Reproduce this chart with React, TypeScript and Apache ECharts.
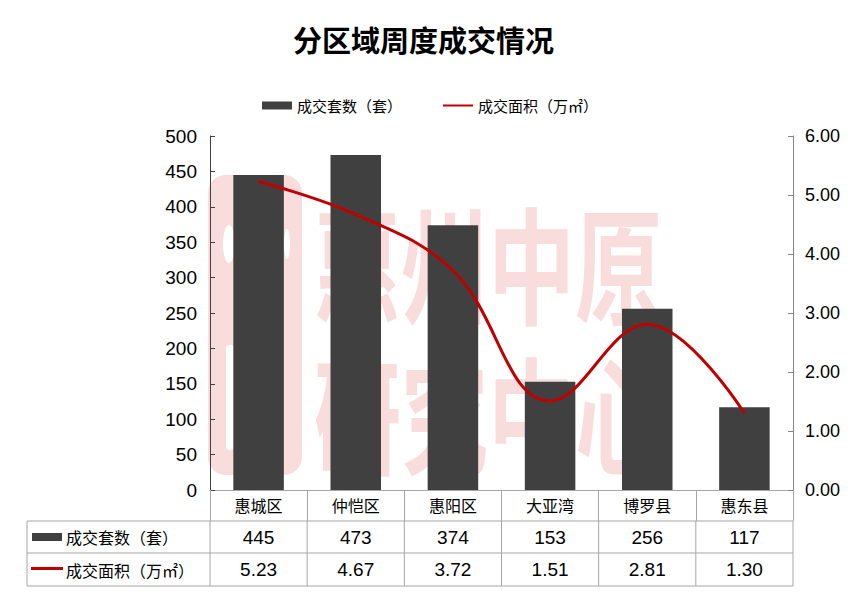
import React, { useEffect, useRef } from "react";
import * as echarts from "echarts";

const categories = ["惠城区", "仲恺区", "惠阳区", "大亚湾", "博罗县", "惠东县"];
const units = [445, 473, 374, 153, 256, 117];
const areas = [5.23, 4.67, 3.72, 1.51, 2.81, 1.3];
const seriesNames = ["成交套数（套）", "成交面积（万㎡）"];
const titleText = "分区域周度成交情况";
const watermarkLines = ["惠州中原", "研究中心"];

const FONT = "'Liberation Sans', Arial, 'Noto Sans CJK SC', sans-serif";
const CJK = "'Noto Sans CJK SC', 'Liberation Sans', sans-serif";
const BAR = "#404040";
const RED = "#c00000";
const GRIDLINE = "#a6a6a6";
const PINK = "#f9dcdc";

export default function App() {
  const ref = useRef<HTMLDivElement>(null);
  useEffect(() => {
    if (!ref.current) return;
    const chart = echarts.init(ref.current, undefined, { renderer: "svg" });
    chart.setOption({
      animation: false,
      textStyle: { fontFamily: FONT },
      title: {
        text: titleText,
        left: 288,
        top: 19,
        textStyle: { fontSize: 29, fontWeight: "bold", color: "#000", fontFamily: CJK },
      },
      legend: {
        top: 93,
        left: 257,
        itemWidth: 30,
        itemHeight: 8,
        itemGap: 40,
        textStyle: { fontSize: 15, color: "#000", fontFamily: CJK },
        data: [
          { name: seriesNames[0], icon: "rect" },
          { name: seriesNames[1], itemStyle: { opacity: 0 } },
        ],
      },
      grid: { left: 210, right: 71, top: 136, bottom: 105 },
      xAxis: {
        type: "category",
        data: categories,
        axisLine: { lineStyle: { color: GRIDLINE, width: 1 } },
        axisTick: { show: true, length: 31, interval: 0, lineStyle: { color: GRIDLINE } },
        axisLabel: { interval: 0, margin: 7, fontSize: 16, color: "#000", fontFamily: CJK },
      },
      yAxis: [
        {
          type: "value",
          min: 0,
          max: 500,
          interval: 50,
          splitLine: { show: false },
          axisLine: { show: true, lineStyle: { color: "#404040" } },
          axisTick: { show: true, inside: true, length: 5, lineStyle: { color: "#404040" } },
          axisLabel: { fontSize: 19, color: "#000", margin: 13 },
        },
        {
          type: "value",
          min: 0,
          max: 6,
          interval: 1,
          position: "right",
          splitLine: { show: false },
          axisLine: { show: true, lineStyle: { color: "#868686" } },
          axisTick: { show: true, inside: true, length: 5, lineStyle: { color: "#868686" } },
          axisLabel: { fontSize: 18, color: "#000", margin: 12, formatter: (v: number) => v.toFixed(2) },
        },
      ],
      series: [
        {
          name: seriesNames[0],
          type: "bar",
          data: units,
          barWidth: "52%",
          itemStyle: { color: BAR },
          z: 2,
        },
        {
          name: seriesNames[1],
          type: "line",
          yAxisIndex: 1,
          data: areas,
          smooth: 0.4,
          symbol: "none",
          lineStyle: { width: 3, color: RED },
          itemStyle: { color: RED },
          z: 3,
        },
      ],
    });

    const centers = categories.map((_, i) => chart.convertToPixel({ xAxisIndex: 0 }, i) as number);
    const band = centers.length > 1 ? centers[1] - centers[0] : 97;
    const xStart = centers[0] - band / 2;
    const xEnd = centers[centers.length - 1] + band / 2;
    const tableLeft = 27;
    const rowTops = [521, 553, 586];
    const rowMid = [537, 569.5];

    const g: any[] = [];
    // watermark
    g.push({ type: "rect", z: -10, shape: { x: 208, y: 175, width: 94, height: 300, r: 18 }, style: { fill: PINK } });
    g.push({ type: "ellipse", z: -9, shape: { cx: 229, cy: 244, rx: 6, ry: 19 }, style: { fill: "#fff" } });
    g.push({ type: "rect", z: -9, shape: { x: 226, y: 345, width: 8, height: 105, r: 4 }, style: { fill: "#fff" } });
    g.push({ type: "ellipse", z: -9, shape: { cx: 287, cy: 244, rx: 3, ry: 15 }, style: { fill: "#fff" } });
    watermarkLines.forEach((t, i) => {
      g.push({
        type: "text",
        z: -10,
        x: 314,
        y: i === 0 ? 197 : 347,
        scaleY: 1.45,
        style: { text: t, fill: PINK, fontSize: 87, fontWeight: "bold", fontFamily: CJK, verticalAlign: "top", align: "left" },
      });
    });
    // table lines
    rowTops.forEach((y) => {
      g.push({ type: "line", shape: { x1: tableLeft, y1: y, x2: xEnd, y2: y }, style: { stroke: GRIDLINE, lineWidth: 1 } });
    });
    const verts = [tableLeft, xStart, ...centers.map((c) => c + band / 2)];
    verts.forEach((x) => {
      g.push({ type: "line", shape: { x1: x, y1: rowTops[0], x2: x, y2: rowTops[2] }, style: { stroke: GRIDLINE, lineWidth: 1 } });
    });
    // row headers
    g.push({ type: "rect", shape: { x: 32, y: rowMid[0] - 4, width: 30, height: 8 }, style: { fill: BAR } });
    g.push({ type: "line", shape: { x1: 31, y1: rowMid[1] - 1, x2: 63, y2: rowMid[1] - 1 }, style: { stroke: RED, lineWidth: 3 } });
    seriesNames.forEach((n, i) => {
      g.push({
        type: "text",
        x: 66,
        y: rowMid[i],
        style: { text: n, fontSize: 16, fill: "#000", fontFamily: CJK, verticalAlign: "middle", align: "left" },
      });
    });
    // values
    const rows = [units.map((v) => String(v)), areas.map((v) => v.toFixed(2))];
    rows.forEach((vals, r) => {
      vals.forEach((v, i) => {
        g.push({
          type: "text",
          x: centers[i],
          y: rowMid[r],
          style: { text: v, fontSize: 19, fill: "#000", fontFamily: FONT, verticalAlign: "middle", align: "center" },
        });
      });
    });
    chart.setOption({ graphic: g });

    return () => chart.dispose();
  }, []);
  return <div ref={ref} style={{ position: "absolute", left: 0, top: 0, width: 864, height: 595 }} />;
}
